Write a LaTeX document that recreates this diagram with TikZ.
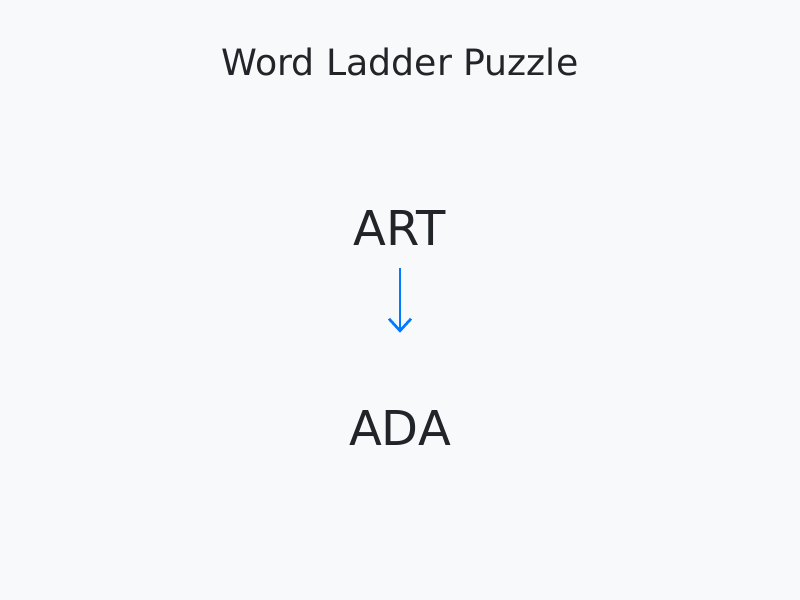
\documentclass[tikz,border=0pt]{standalone}
\usepackage{fontspec}
\setmainfont{DejaVu Sans}
\usetikzlibrary{arrows.meta}
\definecolor{bg}{HTML}{F8F9FA}
\definecolor{ink}{HTML}{212529}
\definecolor{blue}{HTML}{007BFF}
\begin{document}
\begin{tikzpicture}[x=0.75pt,y=0.75pt,
  titletext/.style={anchor=base,inner sep=0pt,text=ink,font=\fontsize{27.2pt}{32pt}\selectfont},
  word/.style={anchor=base,inner sep=0pt,text=ink,font=\fontsize{36pt}{43pt}\selectfont},
  arr/.style={draw=blue,line width=2pt,-{Straight Barb[length=9pt,width=16.5pt,line width=2pt]}}]
\fill[bg] (0,0) rectangle (800,600);
\useasboundingbox (0,0) rectangle (800,600);
\node[titletext] (title) at (400,524) {Word Ladder Puzzle};
\node[word] (art) at (400,354) {ART};
\node[word] (ada) at (400,154) {ADA};
\draw[arr,shorten <=16.5pt,shorten >=58.5pt] (art.south) -- (ada.north);
\end{tikzpicture}
\end{document}
